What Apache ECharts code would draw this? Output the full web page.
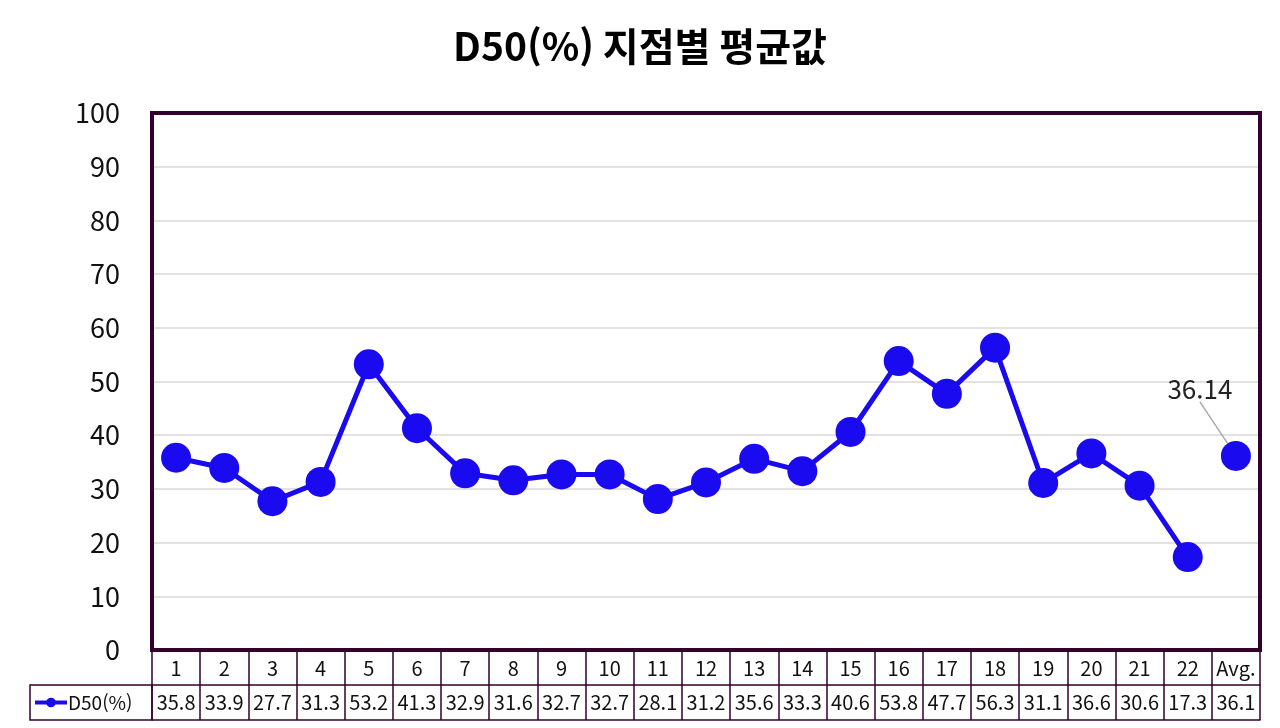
<!DOCTYPE html>
<html lang="ko">
<head>
    <meta charset="UTF-8">
    <title>D50(%) 지점별 평균값</title>
    <script src="https://cdn.jsdelivr.net/npm/echarts@6/dist/echarts.min.js"></script>
    <style>
        html, body { margin: 0; width: 100%; height: 100%; overflow: hidden; background: #fff; }
        #main { width: 1280px; height: 728px; }
    </style>
</head>
<body>
<div id="main"></div>
<script>
    // 지점 번호 + 평균
    var categories = ['1', '2', '3', '4', '5', '6', '7', '8', '9', '10', '11',
        '12', '13', '14', '15', '16', '17', '18', '19', '20', '21', '22', 'Avg.'];
    var siteValues = [35.8, 33.9, 27.7, 31.3, 53.2, 41.3, 32.9, 31.6, 32.7, 32.7, 28.1,
        31.2, 35.6, 33.3, 40.6, 53.8, 47.7, 56.3, 31.1, 36.6, 30.6, 17.3];
    var avgValue = 36.14;

    var border = '#33002b';
    var blue = '#1a0af0';
    var font = '"Noto Sans CJK KR", "Noto Sans", sans-serif';

    var lineData = siteValues.concat([null]);
    var avgData = siteValues.map(function () { return null; }).concat([avgValue]);
    var tableRow = siteValues.concat([avgValue]).map(function (v) { return v.toFixed(1); });

    // 플롯 테두리 (축선으로 그림)
    var frame = { show: true, onZero: false, lineStyle: { color: border, width: 4, cap: 'square' } };
    var thin = { color: border, width: 1.5 };

    var myChart = echarts.init(document.getElementById('main'));
    var option = {
        animation: false,
        textStyle: { fontFamily: font },
        title: {
            text: 'D50(%) 지점별 평균값',
            left: 'center',
            top: 22,
            textStyle: { fontSize: 39, fontWeight: 'bold', color: '#000', fontFamily: font }
        },
        legend: {
            data: ['D50(%)'],
            left: 30,
            top: 686,
            padding: [7, 3],
            itemWidth: 32,
            itemHeight: 12,
            itemGap: 2,
            lineStyle: { width: 4 },
            textStyle: { fontSize: 19, color: '#111', padding: [0, 0, 0, -4] }
        },
        grid: { left: 152, right: 20, top: 113, bottom: 78 },
        xAxis: [{
            type: 'category',
            data: categories,
            position: 'bottom',
            axisLine: frame,
            axisTick: { show: true, interval: 0, length: 35, lineStyle: thin },
            axisLabel: { interval: 0, fontSize: 20, color: '#111', margin: 8 },
            splitLine: { show: false }
        }, {
            type: 'category',
            data: tableRow,
            position: 'bottom',
            offset: 35,
            axisLine: { show: true, onZero: false, lineStyle: thin },
            axisTick: { show: true, interval: 0, length: 35, lineStyle: thin },
            axisLabel: { interval: 0, fontSize: 20, color: '#111', margin: 7 },
            splitLine: { show: false }
        }, {
            type: 'category',
            data: categories,
            position: 'bottom',
            offset: 70,
            axisLine: { show: true, onZero: false, lineStyle: thin },
            axisTick: { show: false },
            axisLabel: { show: false }
        }, {
            type: 'category',
            data: categories,
            position: 'top',
            axisLine: frame,
            axisTick: { show: false },
            axisLabel: { show: false }
        }],
        yAxis: [{
            type: 'value',
            min: 0,
            max: 100,
            interval: 10,
            axisLine: frame,
            axisTick: { show: false },
            axisLabel: { fontSize: 27, color: '#111', margin: 32 },
            splitLine: { lineStyle: { color: '#d9d9d9', width: 1.5 } }
        }, {
            type: 'value',
            min: 0,
            max: 100,
            interval: 10,
            position: 'right',
            axisLine: frame,
            axisTick: { show: false },
            axisLabel: { show: false },
            splitLine: { show: false }
        }],
        graphic: [{
            type: 'rect',
            shape: { x: 30, y: 685, width: 122, height: 35 },
            style: { fill: 'none', stroke: border, lineWidth: 1.5 },
            silent: true
        }],
        series: [{
            name: 'D50(%)',
            type: 'line',
            xAxisIndex: 0,
            yAxisIndex: 0,
            data: lineData,
            symbol: 'circle',
            symbolSize: 30,
            lineStyle: { color: blue, width: 5 },
            itemStyle: { color: blue }
        }, {
            name: 'D50(%)',
            type: 'line',
            xAxisIndex: 0,
            yAxisIndex: 0,
            data: avgData,
            symbol: 'circle',
            symbolSize: 30,
            lineStyle: { color: blue, width: 5 },
            itemStyle: { color: blue },
            label: {
                show: true,
                position: 'top',
                fontSize: 26,
                color: '#222',
                formatter: function (p) { return p.value.toFixed(2); }
            },
            labelLayout: { dx: -36, dy: -34 },
            labelLine: { show: true, lineStyle: { color: '#aaaaaa', width: 1.5 } }
        }]
    };
    myChart.setOption(option);
</script>
</body>
</html>
